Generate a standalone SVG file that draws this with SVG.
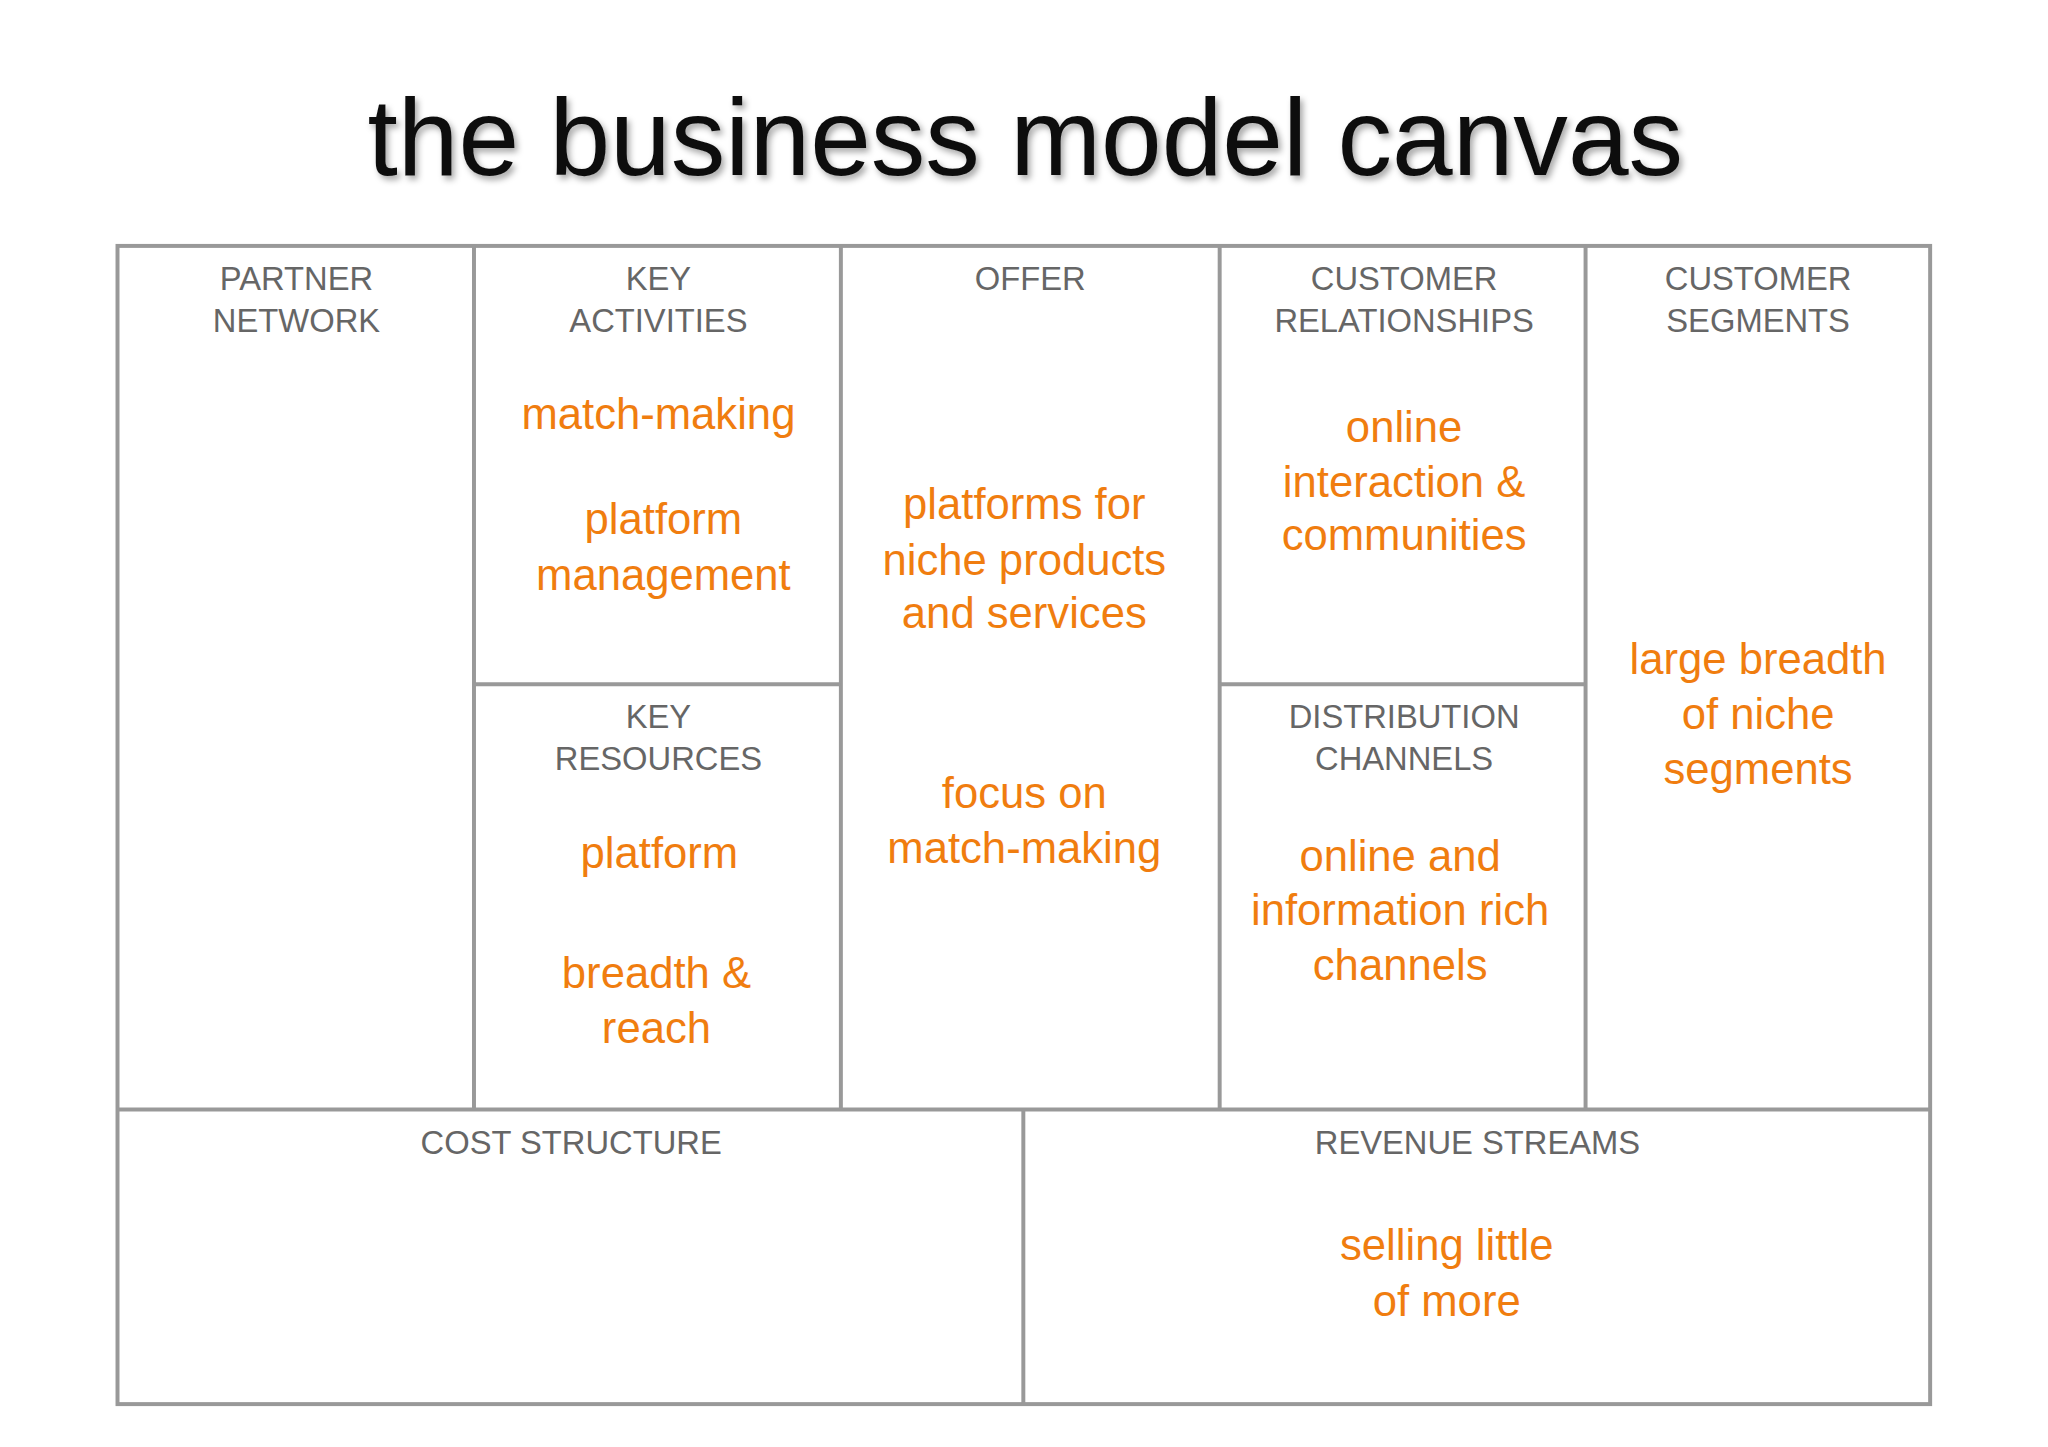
<svg xmlns="http://www.w3.org/2000/svg" width="2048" height="1447" viewBox="0 0 2048 1447">
<defs>
<style>
.h{font-family:"Liberation Sans",Arial,sans-serif;font-size:33px;fill:#666;text-anchor:middle}
.o{font-family:"Liberation Sans",Arial,sans-serif;font-size:44px;fill:#f07d0f;text-anchor:middle}
.l{stroke:#999;stroke-width:4;fill:none}
</style>
<filter id="sh" x="-5%" y="-20%" width="110%" height="140%"><feDropShadow dx="3" dy="4" stdDeviation="3" flood-color="#000" flood-opacity="0.35"/></filter>
</defs>
<rect width="2048" height="1447" fill="#fff"/>
<g transform="scale(0.9916)">
<text x="1034" y="176" font-family="Liberation Sans,Arial,sans-serif" font-size="110" fill="#111" text-anchor="middle" filter="url(#sh)">the business model canvas</text>
<g id="connectors">
<rect class="l" x="118.5" y="248" width="1828" height="1168"/>
<line class="l" x1="478" y1="248" x2="478" y2="1119"/>
<line class="l" x1="848" y1="248" x2="848" y2="1119"/>
<line class="l" x1="1230" y1="248" x2="1230" y2="1119"/>
<line class="l" x1="1599" y1="248" x2="1599" y2="1119"/>
<line class="l" x1="478" y1="690" x2="848" y2="690"/>
<line class="l" x1="1230" y1="690" x2="1599" y2="690"/>
<line class="l" x1="118.5" y1="1119" x2="1946.5" y2="1119"/>
<line class="l" x1="1032" y1="1119" x2="1032" y2="1416"/>
</g>
<g id="partner"><text class="h" x="299" y="292">PARTNER</text><text class="h" x="299" y="335">NETWORK</text></g>
<g id="activities"><text class="h" x="664" y="292">KEY</text><text class="h" x="664" y="335">ACTIVITIES</text>
<text class="o" x="664" y="433">match-making</text><text class="o" x="669" y="539">platform</text><text class="o" x="669" y="595">management</text></g>
<g id="resources"><text class="h" x="664" y="734">KEY</text><text class="h" x="664" y="777">RESOURCES</text>
<text class="o" x="665" y="875">platform</text><text class="o" x="662" y="996">breadth &amp;</text><text class="o" x="662" y="1052">reach</text></g>
<g id="offer"><text class="h" x="1039" y="292">OFFER</text>
<text class="o" x="1033" y="523">platforms for</text><text class="o" x="1033" y="580">niche products</text><text class="o" x="1033" y="633">and services</text>
<text class="o" x="1033" y="815">focus on</text><text class="o" x="1033" y="870">match-making</text></g>
<g id="relationships"><text class="h" x="1416" y="292">CUSTOMER</text><text class="h" x="1416" y="335">RELATIONSHIPS</text>
<text class="o" x="1416" y="446">online</text><text class="o" x="1416" y="501">interaction &amp;</text><text class="o" x="1416" y="555">communities</text></g>
<g id="channels"><text class="h" x="1416" y="734">DISTRIBUTION</text><text class="h" x="1416" y="777">CHANNELS</text>
<text class="o" x="1412" y="878">online and</text><text class="o" x="1412" y="933">information rich</text><text class="o" x="1412" y="988">channels</text></g>
<g id="segments"><text class="h" x="1773" y="292">CUSTOMER</text><text class="h" x="1773" y="335">SEGMENTS</text>
<text class="o" x="1773" y="680">large breadth</text><text class="o" x="1773" y="735">of niche</text><text class="o" x="1773" y="791">segments</text></g>
<g id="cost"><text class="h" x="576" y="1164">COST STRUCTURE</text></g>
<g id="revenue"><text class="h" x="1490" y="1164">REVENUE STREAMS</text>
<text class="o" x="1459" y="1271">selling little</text><text class="o" x="1459" y="1327">of more</text></g>
</g>
</svg>
